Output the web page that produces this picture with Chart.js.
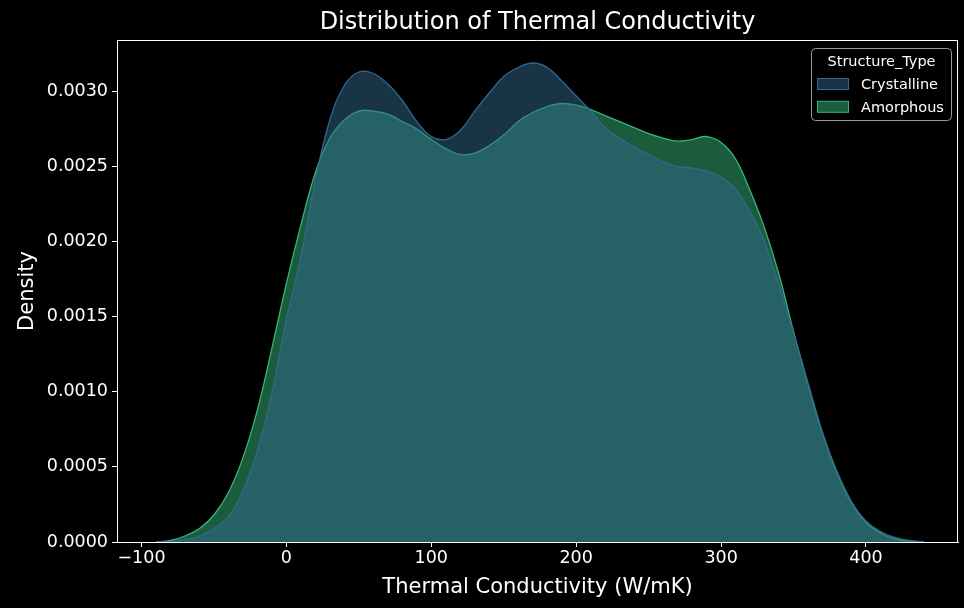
<!DOCTYPE html>
<html lang="en">
<head>
  <meta charset="UTF-8" />
  <title>Distribution of Thermal Conductivity</title>
  <script src="https://cdn.jsdelivr.net/npm/chart.js"></script>
  <style>
    html, body {
      margin: 0;
      padding: 0;
      background: #000;
    }
    #wrap {
      width: 964px;
      height: 608px;
    }
    canvas {
      display: block;
    }
  </style>
</head>
<body>
  <div id="wrap">
    <canvas id="kdeChart" width="964" height="608"></canvas>
  </div>

  <script>
    // KDE curves (density per W/mK)
    const thermalX = [-90, -80, -70, -60, -50, -40, -30, -20, -10, 0,
      10, 20, 30, 40, 50, 60, 70, 80, 90, 100,
      110, 120, 130, 140, 150, 160, 170, 180, 190, 200,
      210, 220, 230, 240, 250, 260, 270, 280, 290, 300,
      310, 320, 330, 340, 350, 360, 370, 380, 390, 400,
      410, 420, 430, 440];

    const crystalline = [0, 0.000004, 0.000015, 0.00004, 0.00009, 0.00017, 0.00034, 0.00061, 0.00099, 0.00148,
      0.0019, 0.00241, 0.00281, 0.00304, 0.00313, 0.00312, 0.00305, 0.00294, 0.0028, 0.0027,
      0.00268, 0.00274, 0.00287, 0.00299, 0.0031, 0.00316, 0.00319, 0.00316, 0.00307, 0.00297,
      0.00287, 0.00276, 0.00269, 0.00263, 0.00258, 0.00253, 0.0025, 0.00249, 0.00247, 0.00243,
      0.00235, 0.0022, 0.002, 0.00171, 0.00139, 0.00106, 0.00073, 0.00047, 0.00027, 0.00014,
      0.00007, 0.00003, 0.00001, 0];

    const amorphous = [0, 0.00001, 0.00004, 0.00009, 0.00018, 0.00033, 0.00056, 0.00088, 0.00129, 0.00172,
      0.00211, 0.00246, 0.00269, 0.00281, 0.00287, 0.00287, 0.00285, 0.0028, 0.00275, 0.00268,
      0.00262, 0.00258, 0.00259, 0.00264, 0.00271, 0.0028, 0.00286, 0.0029, 0.00292, 0.00291,
      0.00288, 0.00284, 0.0028, 0.00276, 0.00272, 0.00269, 0.00267, 0.00268, 0.0027, 0.00266,
      0.00255, 0.00234, 0.00209, 0.00178, 0.0014, 0.00105, 0.00072, 0.00046, 0.00026, 0.00013,
      0.00006, 0.00002, 0.000005, 0];

    const xTicks = [-100, 0, 100, 200, 300, 400];
    const yTicks = [0, 0.0005, 0.001, 0.0015, 0.002, 0.0025, 0.003];

    const seriesNames = ['Crystalline', 'Amorphous'];
    const lineColors = ['#31688e', '#35b779'];
    const fillColors = ['rgba(49,104,142,0.5)', 'rgba(53,183,121,0.5)'];

    const FONT = "'DejaVu Sans', sans-serif";

    function toPoints(ys) {
      return thermalX.map((x, i) => ({ x: x, y: ys[i] }));
    }

    // frame, title and legend (matplotlib style)
    const decorPlugin = {
      id: 'decor',
      afterDraw(chart) {
        const ctx = chart.ctx;
        const a = chart.chartArea;
        ctx.save();
        ctx.strokeStyle = '#ffffff';
        ctx.lineWidth = 1;
        ctx.beginPath();
        ctx.moveTo(a.left, a.top + 0.5);
        ctx.lineTo(a.right, a.top + 0.5);
        ctx.moveTo(a.right - 0.5, a.top);
        ctx.lineTo(a.right - 0.5, a.bottom);
        ctx.stroke();

        // title
        ctx.fillStyle = '#ffffff';
        ctx.font = '24px ' + FONT;
        ctx.textAlign = 'center';
        ctx.textBaseline = 'middle';
        ctx.fillText('Distribution of Thermal Conductivity', (a.left + a.right) / 2, 23);

        // legend
        const lx = 811.5, ly = 48.5, lw = 140, lh = 72;
        ctx.beginPath();
        ctx.roundRect(lx, ly, lw, lh, 4);
        ctx.fillStyle = 'rgba(0,0,0,0.8)';
        ctx.fill();
        ctx.strokeStyle = '#9a9a9a';
        ctx.stroke();

        ctx.fillStyle = '#ffffff';
        ctx.font = '14.5px ' + FONT;
        ctx.textAlign = 'center';
        ctx.fillText('Structure_Type', lx + lw / 2, 62);

        ctx.textAlign = 'left';
        seriesNames.forEach((name, i) => {
          const ry = 78.5 + i * 22.8;
          ctx.fillStyle = fillColors[i];
          ctx.fillRect(817.5, ry, 31, 11);
          ctx.strokeStyle = lineColors[i];
          ctx.strokeRect(817.5, ry, 31, 11);
          ctx.fillStyle = '#ffffff';
          ctx.fillText(name, 861, ry + 6.5);
        });
        ctx.restore();
      }
    };

    const ctx = document.getElementById('kdeChart').getContext('2d');
    const chart = new Chart(ctx, {
      type: 'line',
      data: {
        datasets: seriesNames.map((name, i) => ({
          label: name,
          data: toPoints(i === 0 ? crystalline : amorphous),
          borderColor: lineColors[i],
          backgroundColor: fillColors[i],
          borderWidth: 1.3,
          fill: 'origin',
          pointRadius: 0,
          tension: 0.4
        }))
      },
      options: {
        responsive: false,
        animation: false,
        layout: {
          padding: { top: 40, right: 6, left: 0, bottom: 0 }
        },
        plugins: {
          legend: { display: false },
          tooltip: { enabled: false }
        },
        scales: {
          x: {
            type: 'linear',
            min: -116.9,
            max: 463.5,
            afterFit: (scale) => { scale.height = 66; },
            afterBuildTicks: (scale) => { scale.ticks = xTicks.map(v => ({ value: v })); },
            grid: {
              display: true,
              drawOnChartArea: false,
              drawTicks: true,
              tickLength: 5,
              color: '#ffffff'
            },
            border: { display: true, color: '#ffffff', width: 1 },
            ticks: {
              color: '#ffffff',
              padding: 1,
              maxRotation: 0,
              font: { family: FONT, size: 17.5 },
              callback: (v) => (v < 0 ? '\u2212' + Math.abs(v) : String(v))
            },
            title: {
              display: true,
              text: 'Thermal Conductivity (W/mK)',
              color: '#ffffff',
              font: { family: FONT, size: 21 },
              padding: { top: 0, bottom: 8 }
            }
          },
          y: {
            type: 'linear',
            min: 0,
            max: 0.003343,
            afterFit: (scale) => { scale.width = 117; },
            afterBuildTicks: (scale) => { scale.ticks = yTicks.map(v => ({ value: v })); },
            grid: {
              display: true,
              drawOnChartArea: false,
              drawTicks: true,
              tickLength: 5,
              color: '#ffffff'
            },
            border: { display: true, color: '#ffffff', width: 1 },
            ticks: {
              color: '#ffffff',
              padding: 4,
              font: { family: FONT, size: 17.5 },
              callback: (v) => Number(v).toFixed(4)
            },
            title: {
              display: true,
              text: 'Density',
              color: '#ffffff',
              font: { family: FONT, size: 21 },
              padding: { top: 15, bottom: 0 }
            }
          }
        }
      },
      plugins: [decorPlugin]
    });
  </script>
</body>
</html>
